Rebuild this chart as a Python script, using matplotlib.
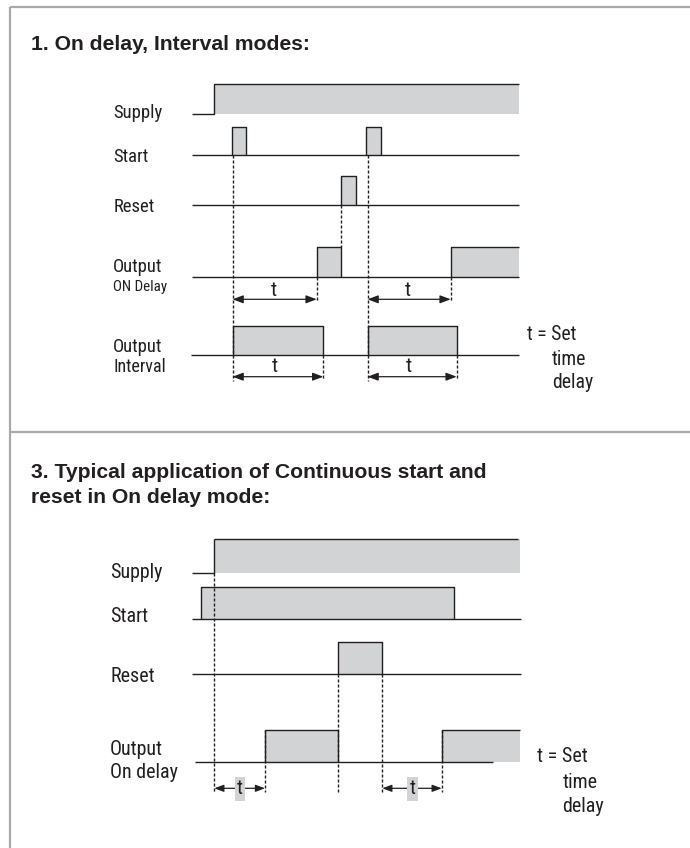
import matplotlib
matplotlib.use("Agg")
import matplotlib.pyplot as plt

# timing diagram, coordinates in picture pixels (x = time axis)
INK = '#231f20'
FILL = '#d1d3d4'
FRAME = '#a7a9ac'
LW = 1.0
DASH = (0, (2.2, 1.4))
LABEL_FONT = ['Roboto Condensed', 'Archivo Narrow', 'DejaVu Sans']
TITLE_FONT = ['Liberation Sans', 'DejaVu Sans']

# ---- panel 1: On delay, Interval modes ----
p1_title = "1. On delay, Interval modes:"
p1_supply_on = 214.3
p1_start = [(231.8, 245.6), (366.0, 380.5)]
p1_reset = [(341.3, 355.6)]
p1_out_delay = [(316.7, 341.3), (450.7, 519.0)]
p1_out_interval = [(232.5, 323.3), (367.5, 456.7)]
p1_t_delay = [(232.5, 316.7), (367.5, 450.7)]
p1_t_interval = [(232.5, 323.3), (367.5, 456.7)]

# ---- panel 3: continuous start and reset in On delay mode ----
p3_title = ["3. Typical application of Continuous start and",
            "reset in On delay mode:"]
p3_supply_on = 214.3
p3_start = [(200.7, 454.3)]
p3_reset = [(337.5, 382.3)]
p3_out_delay = [(265.0, 337.5), (441.7, 520.0)]
p3_t = [(214.3, 265.0), (382.3, 441.7)]

fig = plt.figure(figsize=(6.9, 8.48), dpi=100)
ax = fig.add_axes([0, 0, 1, 1])
ax.set_xlim(0, 690)
ax.set_ylim(848, 0)
ax.axis('off')


def line(xs, ys, **kw):
    kw.setdefault('color', INK)
    kw.setdefault('lw', LW)
    ax.plot(xs, ys, solid_capstyle='butt', **kw)


def pulses(edges, y_lo, y_hi, x_end):
    for a, b in edges:
        ax.fill_between([a, b], y_lo, y_hi, color=FILL, lw=0)
        if b >= x_end:
            line([a, a, b], [y_lo, y_hi, y_hi])
        else:
            line([a, a, b, b], [y_lo, y_hi, y_hi, y_lo])


def vdash(x, y0, y1):
    line([x, x], [y0, y1], ls=DASH, lw=1.0)


def span(a, b, y, scale=8):
    ax.annotate('', xy=(b, y), xytext=(a, y),
                arrowprops=dict(arrowstyle='<|-|>,head_length=0.8,head_width=0.3',
                                color=INK, lw=0.9, mutation_scale=scale,
                                shrinkA=0, shrinkB=0))


def label(x, y, s, size=13.4, **kw):
    ax.text(x, y, s, fontsize=size, family=LABEL_FONT, color=INK,
            va='baseline', **kw)


# frame
line([9.5, 9.5], [6.5, 848], color=FRAME, lw=1.6)
line([9.5, 690], [7.3, 7.3], color=FRAME, lw=1.6)
line([9.5, 690], [431.5, 431.5], color=FRAME, lw=1.6)

# ---------------- panel 1 ----------------
ax.text(31, 50, p1_title, fontsize=15.2, fontweight='bold',
        family=TITLE_FONT, color=INK, va='baseline')

x0, x1 = 192.3, 518.5
# supply
ax.fill_between([p1_supply_on, x1], 114.3, 84, color=FILL, lw=0)
line([x0, p1_supply_on, p1_supply_on, x1], [114.3, 114.3, 84, 84])
# start
line([x0, x1], [155, 155])
pulses(p1_start, 155, 126.7, x1)
# reset
line([x0, x1], [205, 205])
pulses(p1_reset, 205, 176, x1)
# output on delay
line([x0, x1], [276.7, 276.7])
pulses(p1_out_delay, 276.7, 247.3, x1)
# output interval
line([190.7, x1], [355, 355])
pulses(p1_out_interval, 355, 325.7, x1)

# dashed guides
for a, _ in p1_out_interval:
    vdash(a, 155, 380.5)
vdash(p1_reset[0][0], 205, 247.3)
for _, b in p1_t_delay:
    vdash(b, 276.7, 300.5)
for _, b in p1_t_interval:
    vdash(b, 355, 378.5)

for a, b in p1_t_delay:
    span(a, b, 299.3)
    label((a + b) / 2 - 1, 296.5, 't', size=15, ha='center')
for a, b in p1_t_interval:
    span(a, b, 376.7)
    label((a + b) / 2 - 3, 371.5, 't', size=15, ha='center')

label(113.3, 118.5, 'Supply')
label(113.3, 161.5, 'Start')
label(113.3, 211.5, 'Reset')
label(113.3, 271.5, 'Output')
label(113.3, 291.5, 'ON Delay', size=10.8)
label(113.3, 351.5, 'Output')
label(113.3, 371.5, 'Interval', size=13)
label(527, 340.5, 't = Set', size=14.2)
label(552.3, 365, 'time', size=14.2)
label(552.3, 388.5, 'delay', size=14.2)

# ---------------- panel 3 ----------------
for i, s in enumerate(p3_title):
    ax.text(31, 478.3 + 25 * i, s, fontsize=15.2, fontweight='bold',
            family=TITLE_FONT, color=INK, va='baseline')

x1 = 521
# supply
ax.fill_between([p3_supply_on, 520], 572.7, 539, color=FILL, lw=0)
line([x0, p3_supply_on, p3_supply_on], [572.7, 572.7, 539])
line([p3_supply_on, 518], [539, 539])
# start
line([x0, x1], [619, 619])
pulses(p3_start, 619, 586.7, x1)
# reset
line([x0, x1], [674, 674])
pulses(p3_reset, 674, 642, x1)
# output on delay
pulses(p3_out_delay, 762, 730, 520)
line([195, 493.3], [762, 762])

# dashed guides
vdash(p3_supply_on, 572.7, 792)
for x in p3_reset[0]:
    vdash(x, 674, 792)
for a, _ in p3_out_delay:
    vdash(a, 730, 792)

for a, b in p3_t:
    span(a, b, 788.3, scale=7)
    ax.text((a + b) / 2 + 0.5, 789, 't', fontsize=14.5, family=LABEL_FONT,
            color=INK, ha='center', va='center',
            bbox=dict(boxstyle='square,pad=0.1', fc=FILL, ec='none'))

label(110, 577.5, 'Supply', size=14.4)
label(110, 622.5, 'Start', size=14.4)
label(110, 681.7, 'Reset', size=14.4)
label(110, 755, 'Output', size=14.4)
label(110, 777.5, 'On delay', size=14.4)
label(536.8, 762.5, 't = Set', size=14.4)
label(562.3, 787.5, 'time', size=14.4)
label(562.3, 812, 'delay', size=14.4)

fig.savefig("out.png", dpi=100)
